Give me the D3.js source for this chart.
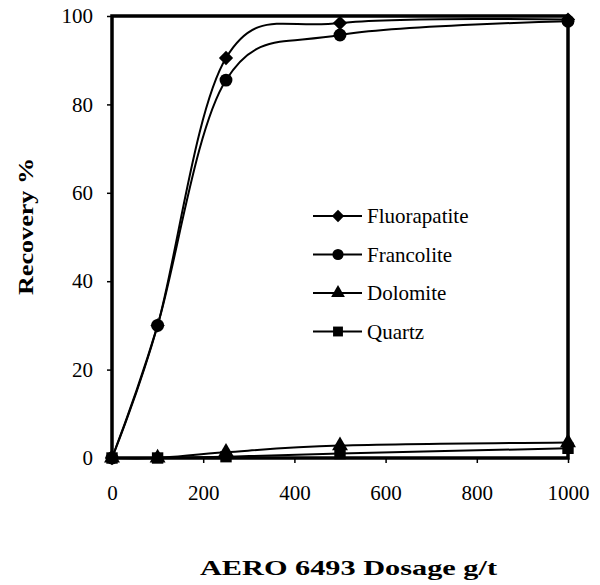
<!DOCTYPE html>
<html lang="en">
<head>
<meta charset="utf-8">
<title>Recovery vs AERO 6493 dosage</title>
<script src="https://d3js.org/d3.v7.min.js"></script>
<style>
  body { margin: 0; background: #fff; }
  text { font-family: "Liberation Serif", "DejaVu Serif", serif; fill: #000; }
</style>
</head>
<body>
<script>
// data
var dosage = [0, 100, 250, 500, 1000];
var seriesNames = ["Fluorapatite", "Francolite", "Dolomite", "Quartz"];
var fluorapatite = [0, 30, 90.5, 98.4, 99.2];
var francolite = [0, 30, 85.5, 95.7, 98.8];
var dolomite = [0, 0, 1.3, 2.8, 3.5];
var quartz = [0, 0, 0.3, 1.0, 2.2];
var xTicks = [0, 200, 400, 600, 800, 1000];
var yTicks = [0, 20, 40, 60, 80, 100];

var width = 600, height = 585;
var plotL = 112, plotT = 16, plotR = 568, plotB = 458;

var svg = d3.select("body").append("svg")
  .attr("width", width).attr("height", height);

var x = d3.scaleLinear().domain([0, 1000]).range([plotL, plotR]);
var y = d3.scaleLinear().domain([0, 100]).range([plotB, plotT]);

var xAxis = svg.append("g")
  .attr("transform", "translate(0," + plotB + ")")
  .call(d3.axisBottom(x).tickValues(xTicks).tickSize(5).tickPadding(22).tickFormat(d3.format("d")));
var yAxis = svg.append("g")
  .attr("transform", "translate(" + plotL + ",0)")
  .call(d3.axisLeft(y).tickValues(yTicks).tickSize(5).tickPadding(14).tickFormat(d3.format("d")));

[xAxis, yAxis].forEach(function(a) {
  a.select(".domain").remove();
  a.selectAll(".tick line").attr("stroke", "#000").attr("stroke-width", 1.5);
  a.selectAll(".tick text").style("font-size", "21px").style("font-family", "Liberation Serif");
});

// frame
svg.append("rect")
  .attr("x", plotL).attr("y", plotT)
  .attr("width", plotR - plotL).attr("height", plotB - plotT)
  .attr("fill", "none").attr("stroke", "#000").attr("stroke-width", 3.5);

// curves
var series = [
  {name: seriesNames[0], values: fluorapatite, shape: "diamond"},
  {name: seriesNames[1], values: francolite, shape: "circle"},
  {name: seriesNames[2], values: dolomite, shape: "triangle"},
  {name: seriesNames[3], values: quartz, shape: "square"}
];

var line = d3.line()
  .x(function(d) { return x(d[0]); })
  .y(function(d) { return y(d[1]); })
  .curve(d3.curveCardinal.tension(0));

var symbolType = {
  diamond: d3.symbolDiamond2,
  circle: d3.symbolCircle,
  triangle: d3.symbolTriangle,
  square: d3.symbolSquare
};
var symbolSize = { diamond: 130, circle: 130, triangle: 110, square: 130 };

function marker(g, shape, scale) {
  var sym = d3.symbol().type(symbolType[shape]).size(symbolSize[shape] * scale);
  g.append("path").attr("d", sym()).attr("fill", "#000");
}

series.forEach(function(s) {
  var pts = dosage.map(function(d, i) { return [d, s.values[i]]; });
  svg.append("path").datum(pts)
    .attr("d", line)
    .attr("fill", "none").attr("stroke", "#000").attr("stroke-width", 2);
  pts.forEach(function(p) {
    var g = svg.append("g").attr("transform", "translate(" + x(p[0]) + "," + y(p[1]) + ")");
    marker(g, s.shape, 1);
  });
});

// legend
var legend = svg.append("g").attr("transform", "translate(313,216)");
series.forEach(function(s, i) {
  var row = legend.append("g").attr("transform", "translate(0," + (i * 38.5) + ")");
  row.append("line").attr("x1", 0).attr("x2", 49).attr("y1", 0).attr("y2", 0)
    .attr("stroke", "#000").attr("stroke-width", 2);
  var g = row.append("g").attr("transform", "translate(25,0)");
  marker(g, s.shape, 0.75);
  row.append("text").attr("x", 54).attr("y", 7)
    .style("font-size", "21px").text(s.name);
});

// axis titles
svg.append("text")
  .attr("x", 200).attr("y", 575)
  .attr("textLength", 297).attr("lengthAdjust", "spacingAndGlyphs")
  .style("font-size", "21px").style("font-weight", "bold")
  .text("AERO 6493 Dosage g/t");

svg.append("text")
  .attr("transform", "translate(33,295) rotate(-90)")
  .attr("textLength", 137).attr("lengthAdjust", "spacingAndGlyphs")
  .style("font-size", "22px").style("font-weight", "bold")
  .text("Recovery %");
</script>
</body>
</html>
